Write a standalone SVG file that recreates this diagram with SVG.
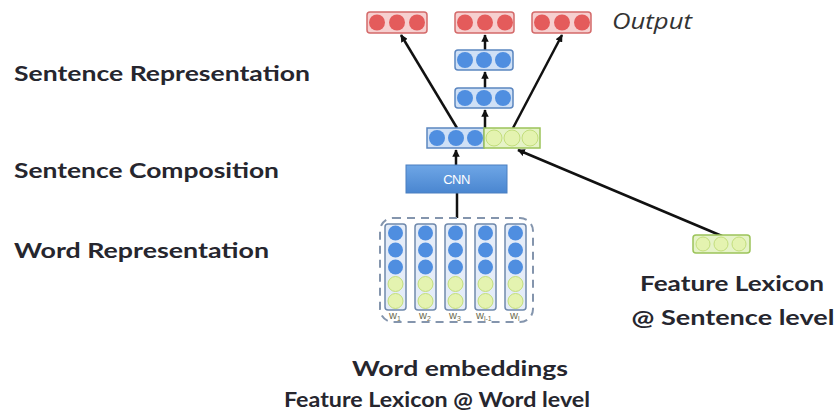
<svg xmlns="http://www.w3.org/2000/svg" width="838" height="416" viewBox="0 0 838 416">
  <style>
    .lbl { font-family: Lato, "Open Sans", "Liberation Sans", sans-serif; font-weight: bold; fill: #26262e; }
    .red-box { fill: #f6cfcf; stroke: #d46a6a; stroke-width: 1.5; }
    .red-dot { fill: #e45b5b; }
    .blue-box { fill: #cfe0f6; stroke: #5b86c0; stroke-width: 1.5; }
    .blue-dot { fill: #4f8ee0; }
    .green-box { fill: #e6f3c8; stroke: #9cc45a; stroke-width: 1.5; }
    .green-dot { fill: #e4f3b0; stroke: #c3de7c; stroke-width: 1; }
    .col { fill: #e4ecf8; stroke: #6f89ac; stroke-width: 1.5; }
    .edge { stroke: #111; stroke-width: 2.5; fill: none; marker-end: url(#ah); }
    .wl { font-family: "Liberation Sans", sans-serif; font-size: 11px; fill: #6b6b50; }
  </style>
  <defs>
    <marker id="ah" viewBox="0 0 10 10" refX="9" refY="5" markerWidth="3" markerHeight="3" orient="auto">
      <path d="M0,0 L10,5 L0,10 z" fill="#111"/>
    </marker>
    <linearGradient id="cnnGrad" x1="0" y1="0" x2="0" y2="1">
      <stop offset="0" stop-color="#6ea6e6"/>
      <stop offset="1" stop-color="#4a86d0"/>
    </linearGradient>
    <g id="dots3red">
      <circle cx="10" cy="10.5" r="8" class="red-dot"/>
      <circle cx="30" cy="10.5" r="8" class="red-dot"/>
      <circle cx="50" cy="10.5" r="8" class="red-dot"/>
    </g>
    <g id="dots3blue">
      <circle cx="10" cy="10" r="8" class="blue-dot"/>
      <circle cx="29" cy="10" r="8" class="blue-dot"/>
      <circle cx="48" cy="10" r="8" class="blue-dot"/>
    </g>
    <g id="wordcol">
      <rect x="0" y="0" width="21" height="86" rx="3" class="col"/>
      <circle cx="10.5" cy="9" r="7.5" class="blue-dot"/>
      <circle cx="10.5" cy="26" r="7.5" class="blue-dot"/>
      <circle cx="10.5" cy="43" r="7.5" class="blue-dot"/>
      <circle cx="10.5" cy="60" r="7.5" class="green-dot"/>
      <circle cx="10.5" cy="77" r="7.5" class="green-dot"/>
    </g>
  </defs>

  <!-- level labels -->
  <g id="labels">
    <text class="lbl" x="14" y="81" font-size="21" textLength="296" lengthAdjust="spacingAndGlyphs">Sentence Representation</text>
    <text class="lbl" x="14" y="178" font-size="21" textLength="265" lengthAdjust="spacingAndGlyphs">Sentence Composition</text>
    <text class="lbl" x="14" y="258" font-size="21" textLength="255" lengthAdjust="spacingAndGlyphs">Word Representation</text>
  </g>

  <!-- connectors -->
  <g id="connectors">
    <line class="edge" x1="457" y1="128" x2="401" y2="35"/>
    <line class="edge" x1="513" y1="128" x2="562" y2="35"/>
    <line class="edge" x1="485" y1="128" x2="485" y2="110"/>
    <line class="edge" x1="485" y1="88" x2="485" y2="72"/>
    <line class="edge" x1="485" y1="50" x2="485" y2="35"/>
    <line class="edge" x1="456" y1="165" x2="456" y2="150"/>
    <line x1="457" y1="218" x2="457" y2="193" stroke="#111" stroke-width="2.5"/>
    <line class="edge" x1="722" y1="236" x2="518" y2="150"/>
  </g>

  <!-- output layer -->
  <g id="out1">
    <rect x="367" y="12" width="60" height="21" rx="3" class="red-box"/>
    <use href="#dots3red" x="367" y="12"/>
  </g>
  <g id="out2">
    <rect x="455" y="12" width="59" height="21" rx="3" class="red-box"/>
    <use href="#dots3red" x="455" y="12"/>
  </g>
  <g id="out3">
    <rect x="532" y="12" width="59" height="21" rx="3" class="red-box"/>
    <use href="#dots3red" x="532" y="12"/>
  </g>
  <text x="612" y="29" font-family="'Open Sans', 'Liberation Sans', sans-serif" font-style="italic" font-size="21" fill="#333" textLength="80" lengthAdjust="spacingAndGlyphs">Output</text>

  <!-- hidden layers -->
  <g id="hidden2">
    <rect x="455" y="50" width="58" height="20" rx="3" class="blue-box"/>
    <use href="#dots3blue" x="455" y="50"/>
  </g>
  <g id="hidden1">
    <rect x="455" y="88" width="58" height="20" rx="3" class="blue-box"/>
    <use href="#dots3blue" x="455" y="88"/>
  </g>

  <!-- concatenated sentence vector -->
  <g id="concat">
    <rect x="427" y="128" width="57" height="20" class="blue-box"/>
    <rect x="484" y="128" width="56" height="20" class="green-box"/>
    <use href="#dots3blue" x="427" y="128"/>
    <circle cx="494" cy="138" r="8" class="green-dot"/>
    <circle cx="512" cy="138" r="8" class="green-dot"/>
    <circle cx="530" cy="138" r="8" class="green-dot"/>
  </g>

  <!-- CNN block -->
  <g id="cnn">
    <rect x="406" y="165" width="101" height="28" fill="url(#cnnGrad)" stroke="#4a7fc0" stroke-width="1"/>
    <text x="456.5" y="184" text-anchor="middle" font-family="'Liberation Sans', sans-serif" font-size="13" fill="#fff" letter-spacing="-0.5">CNN</text>
  </g>

  <!-- word representations -->
  <g id="words">
    <rect x="380" y="218" width="153" height="104" rx="13" fill="none" stroke="#8495ad" stroke-width="2" stroke-dasharray="8 6"/>
    <use href="#wordcol" x="385" y="224"/>
    <use href="#wordcol" x="415" y="224"/>
    <use href="#wordcol" x="445" y="224"/>
    <use href="#wordcol" x="475" y="224"/>
    <use href="#wordcol" x="505" y="224"/>
    <text class="wl" x="389" y="319">w<tspan font-size="7" dy="2">1</tspan></text>
    <text class="wl" x="419" y="319">w<tspan font-size="7" dy="2">2</tspan></text>
    <text class="wl" x="449" y="319">w<tspan font-size="7" dy="2">3</tspan></text>
    <text class="wl" x="476" y="319">w<tspan font-size="7" dy="2">l-1</tspan></text>
    <text class="wl" x="510" y="319">w<tspan font-size="7" dy="2">l</tspan></text>
  </g>

  <!-- sentence-level lexicon feature -->
  <g id="sent-lexicon">
    <rect x="693" y="235" width="57" height="18" rx="3" class="green-box"/>
    <circle cx="703" cy="244" r="7" class="green-dot"/>
    <circle cx="721" cy="244" r="7" class="green-dot"/>
    <circle cx="739" cy="244" r="7" class="green-dot"/>
  </g>

  <!-- captions -->
  <g id="captions">
    <text class="lbl" x="732" y="291" font-size="21" text-anchor="middle" textLength="184" lengthAdjust="spacingAndGlyphs">Feature Lexicon</text>
    <text class="lbl" x="733" y="325" font-size="21" text-anchor="middle" textLength="203" lengthAdjust="spacingAndGlyphs">@ Sentence level</text>
    <text class="lbl" x="460" y="376" font-size="21" text-anchor="middle" textLength="216" lengthAdjust="spacingAndGlyphs">Word embeddings</text>
    <text class="lbl" x="437" y="407" font-size="21" text-anchor="middle" textLength="306" lengthAdjust="spacingAndGlyphs">Feature Lexicon @ Word level</text>
  </g>
</svg>
